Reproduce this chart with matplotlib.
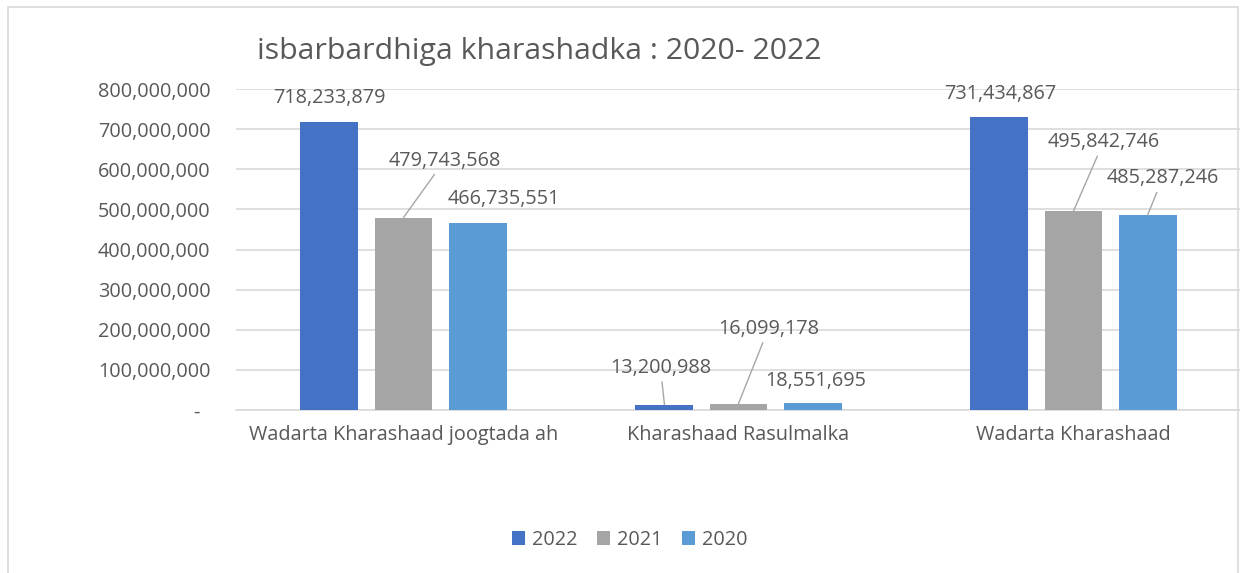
import numpy as np
from matplotlib import pyplot as plt
from matplotlib.patches import Rectangle

categories = ['Wadarta Kharashaad joogtada ah', 'Kharashaad Rasulmalka', 'Wadarta Kharashaad']
years = ['2022', '2021', '2020']
v2022 = [718233879, 13200988, 731434867]
v2021 = [479743568, 16099178, 495842746]
v2020 = [466735551, 18551695, 485287246]
yticks = [0, 100000000, 200000000, 300000000, 400000000, 500000000, 600000000, 700000000, 800000000]

colors = ['#4472C4', '#A5A5A5', '#5B9BD5']
txt = '#595959'
grid = '#D9D9D9'
# label offsets in pixels from bar top (dx, dy) and whether a leader line is drawn
offsets = [
    [(0, 24, False), (41, 57, True), (26, 24, False)],
    [(-4, 37, True), (30, 75, True), (3, 22, False)],
    [(1, 23, False), (30, 69, True), (15, 37, True)],
]

plt.rcParams['font.family'] = ['Open Sans', 'DejaVu Sans']

fig = plt.figure(figsize=(12.4, 5.73), dpi=100)
fig.patches.append(Rectangle((8/1240, -0.1), 1230/1240, 1 - 7/573 + 0.1, transform=fig.transFigure,
                             fill=False, edgecolor=grid, lw=1.2))
ax = fig.add_axes([236/1240, 1 - 410/573, 1005/1240, 321/573])

x = np.arange(len(categories))
w = 0.173
step = 0.221
series = [v2022, v2021, v2020]
for i, vals in enumerate(series):
    bars = ax.bar(x + (i - 1)*step, vals, width=w, color=colors[i], label=years[i], zorder=3)
    for j, b in enumerate(bars):
        dx, dy, line = offsets[j][i]
        ap = dict(arrowstyle='-', color='#A6A6A6', lw=1, shrinkA=1, shrinkB=0) if line else None
        ax.annotate(f'{vals[j]:,}', xy=(b.get_x() + b.get_width()/2, b.get_height()),
                    xytext=(dx, dy), textcoords='offset pixels', ha='center', va='center',
                    fontsize=14.3, color=txt, arrowprops=ap, zorder=4)

ax.set_xlim(-0.5, 2.5)
ax.set_ylim(0, 800000000)
ax.set_yticks(yticks)
ax.set_yticklabels([f'{t:,}' if t else '-  ' for t in yticks])
ax.set_xticks(x)
ax.set_xticklabels(categories)
ax.tick_params(axis='y', length=0, pad=18.5, labelsize=14.3, labelcolor=txt)
ax.tick_params(axis='x', length=0, pad=11, labelsize=14.3, labelcolor=txt)
ax.grid(axis='y', color=grid, lw=1.2, zorder=0)
for s in ['left', 'right', 'top']:
    ax.spines[s].set_visible(False)
ax.spines['bottom'].set_color(grid)
ax.spines['bottom'].set_linewidth(1.2)

fig.text(257/1240, 1 - 51/573, 'isbarbardhiga kharashadka : 2020- 2022', fontsize=21.8, color=txt,
         ha='left', va='center')
fig.legend(loc='center', bbox_to_anchor=(630/1240, 1 - 540/573), ncol=3, frameon=False,
           fontsize=14.3, labelcolor=txt, handlelength=0.65, handleheight=0.65,
           handletextpad=0.35, columnspacing=1.0)

fig.savefig('out.png', dpi=100)
